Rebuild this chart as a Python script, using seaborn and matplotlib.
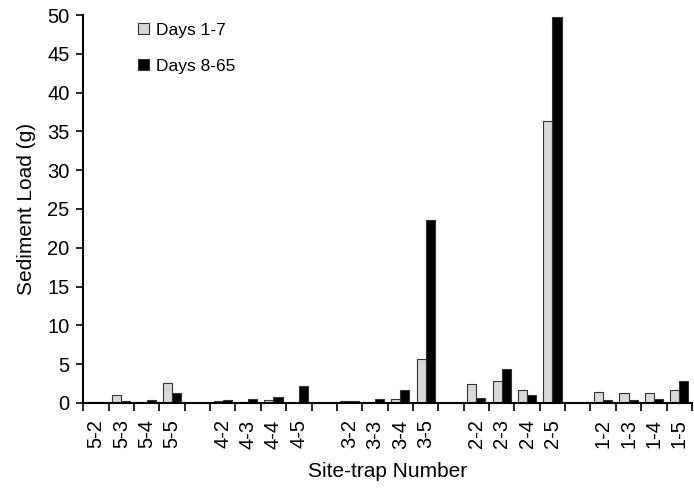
import numpy as np
import pandas as pd
import matplotlib
matplotlib.use("Agg")
import matplotlib.pyplot as plt
import seaborn as sns

# site-trap labels, blank entries are the gaps between sites
slots = ["5-2", "5-3", "5-4", "5-5", "",
         "4-2", "4-3", "4-4", "4-5", " ",
         "3-2", "3-3", "3-4", "3-5", "  ",
         "2-2", "2-3", "2-4", "2-5", "   ",
         "1-2", "1-3", "1-4", "1-5"]
traps = ["5-2", "5-3", "5-4", "5-5",
         "4-2", "4-3", "4-4", "4-5",
         "3-2", "3-3", "3-4", "3-5",
         "2-2", "2-3", "2-4", "2-5",
         "1-2", "1-3", "1-4", "1-5"]
days_1_7 = [0.1, 1.0, 0.05, 2.5,
            0.2, 0.1, 0.3, 0.0,
            0.2, 0.15, 0.5, 5.7,
            2.45, 2.75, 1.6, 36.3,
            1.4, 1.25, 1.2, 1.6]
days_8_65 = [0.15, 0.2, 0.4, 1.3,
             0.4, 0.55, 0.75, 2.2,
             0.2, 0.45, 1.6, 23.6,
             0.6, 4.4, 1.05, 49.8,
             0.35, 0.35, 0.55, 2.8]
series = ["Days 1-7", "Days 8-65"]

df = pd.DataFrame({
    "trap": traps * 2,
    "load": days_1_7 + days_8_65,
    "period": [series[0]] * len(traps) + [series[1]] * len(traps),
})

plt.rcParams["font.family"] = ["Liberation Sans", "DejaVu Sans"]

fig = plt.figure(figsize=(6.94, 4.90), dpi=100)
ax = fig.add_axes([0.12, 0.178, 0.877, 0.791])

sns.barplot(data=df, x="trap", y="load", hue="period", order=slots,
            hue_order=series, palette=["#d9d9d9", "#000000"],
            width=0.72, edgecolor="#333333", linewidth=0.8,
            errorbar=None, ax=ax)

ax.set_xlim(-0.5, len(slots) - 0.5)
ax.set_ylim(0, 50)
ax.set_yticks(np.arange(0, 51, 5))
ax.tick_params(axis="y", labelsize=14.5, length=5, width=1.2, direction="out",
               pad=5)

# tick marks between categories, labels at category centres
ax.set_xticks(np.arange(-0.5, len(slots), 1.0))
ax.set_xticklabels([])
ax.set_xticks(np.arange(len(slots)), minor=True)
ax.set_xticklabels(slots, minor=True, rotation=90, fontsize=14.5)
ax.tick_params(axis="x", which="major", length=6, width=1.2, direction="out")
ax.tick_params(axis="x", which="minor", length=0, pad=12)

for s in ["top", "right"]:
    ax.spines[s].set_visible(False)
for s in ["left", "bottom"]:
    ax.spines[s].set_linewidth(1.5)

ax.set_xlabel("Site-trap Number", fontsize=15, labelpad=10)
ax.set_ylabel("Sediment Load (g)", fontsize=15, labelpad=8)

ax.legend(frameon=False, loc="upper left", bbox_to_anchor=(0.065, 1.02),
          fontsize=12.5, handlelength=0.6, handleheight=0.6, handletextpad=0.4,
          labelspacing=1.2)

fig.savefig("out.png", dpi=100)
